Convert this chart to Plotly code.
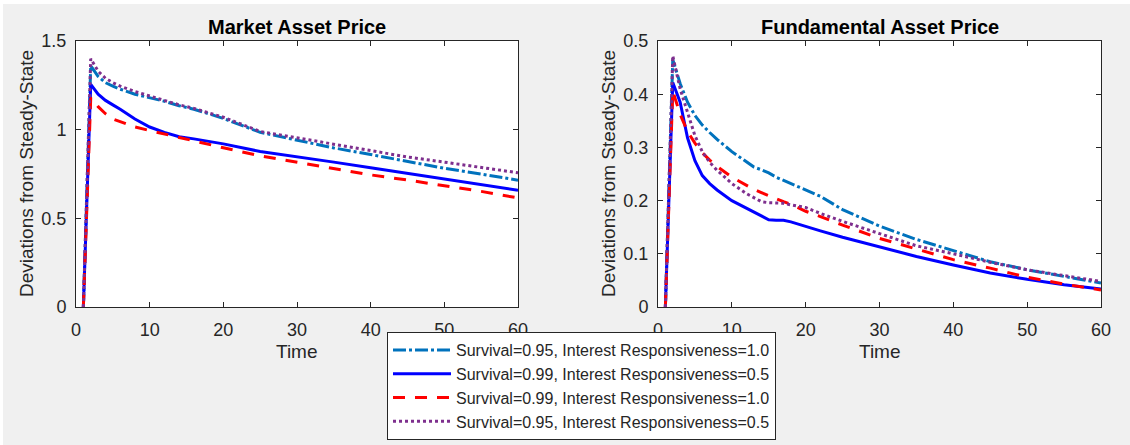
import plotly.graph_objects as go

W, H = 1130, 445

# ---------------- data ----------------
series_names = [
    "Survival=0.95, Interest Responsiveness=1.0",
    "Survival=0.99, Interest Responsiveness=0.5",
    "Survival=0.99, Interest Responsiveness=1.0",
    "Survival=0.95, Interest Responsiveness=0.5",
]

# Market Asset Price
market_t = [1, 2, 3, 4, 5, 6, 8, 10, 12, 14, 16, 18, 20, 25, 30, 35, 40, 45, 50, 55, 60]
market_s95_r10 = [0, 1.36, 1.30, 1.265, 1.245, 1.228, 1.20, 1.18, 1.16, 1.135, 1.115, 1.09, 1.063,
                  0.985, 0.942, 0.897, 0.86, 0.823, 0.782, 0.75, 0.715]
market_s99_r05 = [0, 1.256, 1.20, 1.165, 1.14, 1.115, 1.06, 1.015, 0.985, 0.96, 0.948, 0.935, 0.92,
                  0.877, 0.848, 0.817, 0.785, 0.754, 0.722, 0.69, 0.658]
market_s99_r10 = [0, 1.18, 1.13, 1.09, 1.06, 1.045, 1.015, 0.995, 0.975, 0.957, 0.938, 0.918, 0.898,
                  0.852, 0.815, 0.78, 0.745, 0.716, 0.684, 0.652, 0.615]
market_s95_r05 = [0, 1.40, 1.33, 1.29, 1.265, 1.245, 1.215, 1.19, 1.165, 1.14, 1.12, 1.095, 1.07,
                  0.99, 0.955, 0.92, 0.883, 0.846, 0.817, 0.785, 0.757]

# Fundamental Asset Price
fund_t = [1, 2, 3, 4, 5, 6, 7, 8, 10, 12, 13, 14, 15, 16, 17, 18, 20, 22, 25, 30, 35, 40, 45, 50, 55, 60]
fund_s95_r10 = [0, 0.465, 0.42, 0.385, 0.36, 0.342, 0.328, 0.315, 0.292, 0.272, 0.263, 0.258, 0.252,
                0.244, 0.238, 0.233, 0.22, 0.208, 0.183, 0.152, 0.127, 0.106, 0.085, 0.07, 0.057, 0.045]
fund_s99_r05 = [0, 0.422, 0.385, 0.318, 0.275, 0.247, 0.232, 0.22, 0.20, 0.186, 0.179, 0.172, 0.164,
                0.163, 0.163, 0.16, 0.151, 0.143, 0.131, 0.113, 0.095, 0.079, 0.064, 0.052, 0.042, 0.034]
fund_s99_r10 = [0, 0.406, 0.362, 0.33, 0.308, 0.29, 0.276, 0.264, 0.244, 0.228, 0.221, 0.215, 0.209,
                0.203, 0.198, 0.193, 0.18, 0.17, 0.154, 0.129, 0.109, 0.089, 0.073, 0.056, 0.043, 0.032]
fund_s95_r05 = [0, 0.472, 0.41, 0.365, 0.322, 0.292, 0.272, 0.257, 0.232, 0.213, 0.205, 0.198, 0.196,
                0.196, 0.195, 0.192, 0.187, 0.176, 0.161, 0.138, 0.115, 0.10, 0.084, 0.07, 0.059, 0.048]

x_ticks = [0, 10, 20, 30, 40, 50, 60]
market_y_ticks = [0, 0.5, 1, 1.5]
market_y_labels = ["0", "0.5", "1", "1.5"]
fund_y_ticks = [0, 0.1, 0.2, 0.3, 0.4, 0.5]
fund_y_labels = ["0", "0.1", "0.2", "0.3", "0.4", "0.5"]

# ---------------- styles ----------------
colors = ["#0072BD", "#0000FF", "#FF0000", "#7E2F8E"]
dashes = ["13px,3px,3px,3px", "solid", "12px,10px", "3px,3px"]
LW = 3
FONT = "Liberation Sans, Arial, Helvetica, sans-serif"
TXT = "#262626"

fig = go.Figure()

market_vals = [market_s95_r10, market_s99_r05, market_s99_r10, market_s95_r05]
fund_vals = [fund_s95_r10, fund_s99_r05, fund_s99_r10, fund_s95_r05]

for i in range(4):
    fig.add_trace(go.Scatter(x=market_t, y=market_vals[i], mode="lines", name=series_names[i],
                             line=dict(color=colors[i], width=LW, dash=dashes[i]),
                             xaxis="x", yaxis="y", showlegend=True))
for i in range(4):
    fig.add_trace(go.Scatter(x=fund_t, y=fund_vals[i], mode="lines", name=series_names[i],
                             line=dict(color=colors[i], width=LW, dash=dashes[i]),
                             xaxis="x2", yaxis="y2", showlegend=False))

def px_x(p):
    return p / W

def px_y(p):
    return (H - p) / H

ax_common = dict(showline=True, mirror="ticks", linecolor=TXT, linewidth=1,
                 ticks="inside", ticklen=5, tickcolor=TXT, tickwidth=1,
                 showgrid=False, zeroline=False, automargin=False,
                 tickfont=dict(family=FONT, size=18, color=TXT))

ydom = [px_y(307), px_y(41)]
fig.update_layout(
    width=W, height=H,
    autosize=False,
    margin=dict(l=0, r=0, t=0, b=0, pad=0),
    paper_bgcolor="#F0F0F0",
    plot_bgcolor="white",
    xaxis=dict(domain=[px_x(76), px_x(518)], range=[0, 60], tickvals=x_ticks,
               ticklabelstandoff=6, anchor="y", **ax_common),
    yaxis=dict(domain=ydom, range=[0, 1.5], tickvals=market_y_ticks, ticktext=market_y_labels,
               ticklabelstandoff=5, anchor="x", **ax_common),
    xaxis2=dict(domain=[px_x(658), px_x(1101)], range=[0, 60], tickvals=x_ticks,
                ticklabelstandoff=6, anchor="y2", **ax_common),
    yaxis2=dict(domain=ydom, range=[0, 0.5], tickvals=fund_y_ticks, ticktext=fund_y_labels,
                ticklabelstandoff=5, anchor="x2", **ax_common),
    legend=dict(x=px_x(387), y=px_y(440), xanchor="left", yanchor="bottom",
                bgcolor="white", bordercolor=TXT, borderwidth=1,
                font=dict(family=FONT, size=16, color=TXT),
                itemwidth=58, tracegroupgap=0),
    showlegend=True,
)

# white border strip at top-left like the reference capture
fig.add_shape(type="rect", xref="paper", yref="paper", x0=0, x1=1, y0=px_y(4), y1=1,
              fillcolor="white", line=dict(width=0), layer="below")
fig.add_shape(type="rect", xref="paper", yref="paper", x0=0, x1=px_x(3), y0=0, y1=1,
              fillcolor="white", line=dict(width=0), layer="below")

titles = [("<b>Market Asset Price</b>", 297), ("<b>Fundamental Asset Price</b>", 880)]
for text, xc in titles:
    fig.add_annotation(xref="paper", yref="paper", showarrow=False, xanchor="center", yanchor="middle",
                       text=text, x=px_x(xc), y=px_y(27),
                       font=dict(family=FONT, size=20, color="black"))
for xc in (297, 880):
    fig.add_annotation(xref="paper", yref="paper", showarrow=False, xanchor="center", yanchor="middle",
                       text="Time", x=px_x(xc), y=px_y(351),
                       font=dict(family=FONT, size=19, color=TXT))
for xc in (26, 608):
    fig.add_annotation(xref="paper", yref="paper", showarrow=False, xanchor="center", yanchor="middle",
                       text="Deviations from Steady-State", textangle=-90,
                       x=px_x(xc), y=px_y(174), font=dict(family=FONT, size=19, color=TXT))

fig.write_html("out.html")
